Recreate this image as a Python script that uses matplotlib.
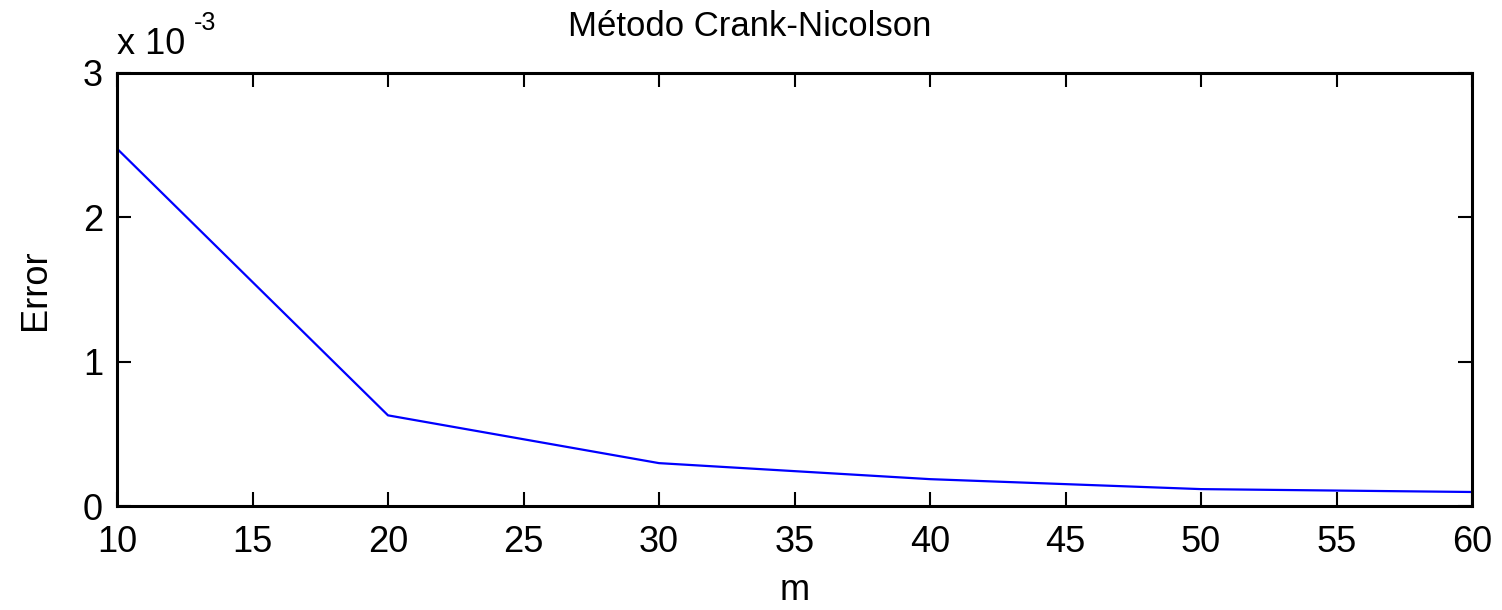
import numpy as np
import matplotlib
matplotlib.use("Agg")
import matplotlib.pyplot as plt
from matplotlib.ticker import FuncFormatter

plt.rcParams['font.family'] = ['Liberation Sans', 'DejaVu Sans']

# error of the Crank-Nicolson scheme vs number of nodes m
m = [10, 20, 30, 40, 50, 60]
error = [2.476e-3, 0.628e-3, 0.297e-3, 0.186e-3, 0.117e-3, 0.097e-3]

W, H = 1502, 610
fig = plt.figure(figsize=(W / 100, H / 100), dpi=100)
ax = fig.add_axes([117 / W, 1 - 506 / H, (1472 - 117) / W, (506 - 73) / H])

ax.plot(m, error, color='#0000ff', lw=1.6)

ax.set_xlim(10, 60)
ax.set_ylim(0, 3e-3)
ax.set_xticks(np.arange(10, 61, 5))
ax.set_yticks([0, 1e-3, 2e-3, 3e-3])
ax.yaxis.set_major_formatter(FuncFormatter(lambda v, p: '%g' % round(v * 1e3, 6)))

ax.tick_params(direction='in', length=10, width=1.5, labelsize=26,
               top=True, right=True)
ax.tick_params(axis='x', pad=14)
ax.tick_params(axis='y', pad=10)
for s in ax.spines.values():
    s.set_linewidth(2.2)

# title sits left of the axes centre in the original
fig.text(750 / W, 1 - 27 / H, 'Método Crank-Nicolson', fontsize=25,
         ha='center', va='center')
fig.text(795 / W, 1 - 590 / H, 'm', fontsize=26, ha='center', va='center')
fig.text(35 / W, 1 - 290 / H, 'Error', fontsize=26, ha='center', va='center',
         rotation=90)

# MATLAB-style exponent label
fig.text(117 / W, 1 - 54 / H, 'x 10', fontsize=26, ha='left', va='baseline')
fig.text(194 / W, 1 - 30 / H, '-3', fontsize=18, ha='left', va='baseline')

fig.savefig('out.png', dpi=100)
